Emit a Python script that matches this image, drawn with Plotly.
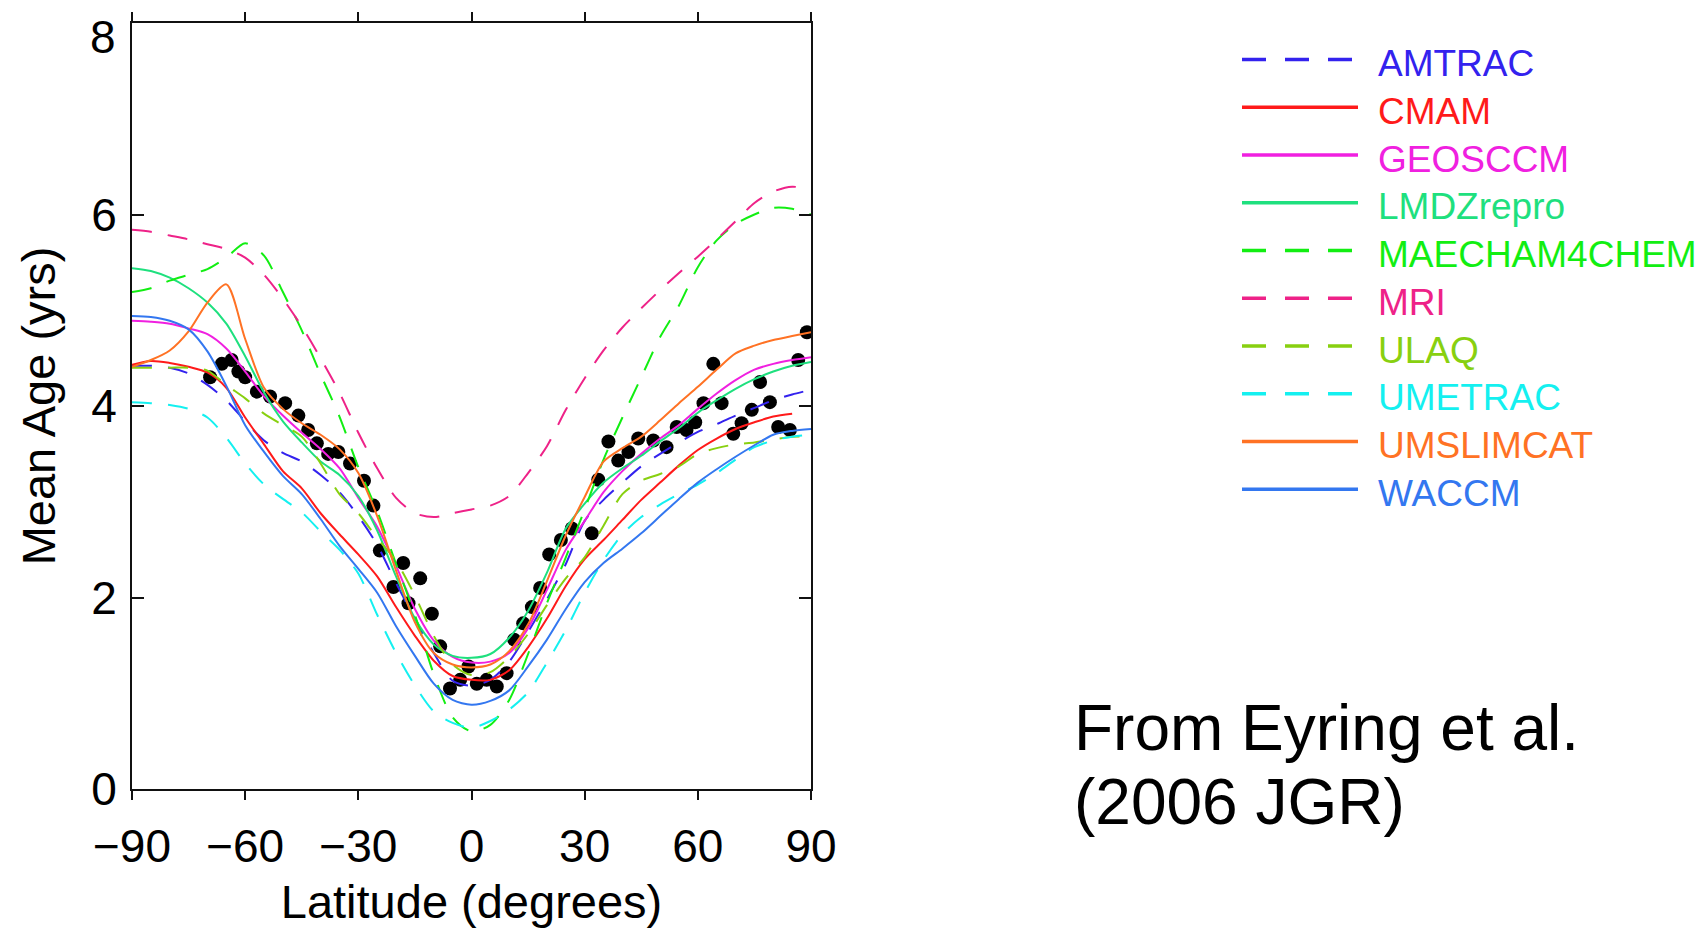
import plotly.graph_objects as go

# ---------------- data ----------------
lat = [-90, -85, -80, -75, -70, -65, -60, -55, -50, -45, -40, -35, -30, -25, -20, -15, -10, -5,
       0, 5, 10, 15, 20, 25, 30, 35, 40, 45, 50, 55, 60, 65, 70, 75, 80, 85, 90]
lat_cmam = lat[:-1]

amtrac = [4.42, 4.42, 4.40, 4.34, 4.22, 4.06, 3.84, 3.64, 3.51, 3.42, 3.28, 3.10, 2.85, 2.55, 2.15,
          1.78, 1.42, 1.13, 1.08, 1.14, 1.33, 1.64, 1.98, 2.35, 2.80, 3.02, 3.20, 3.37, 3.50, 3.62,
          3.73, 3.81, 3.90, 3.98, 4.06, 4.12, 4.17]
cmam = [4.43, 4.47, 4.45, 4.41, 4.35, 4.19, 3.88, 3.60, 3.32, 3.14, 2.88, 2.66, 2.45, 2.22, 1.90,
        1.60, 1.34, 1.18, 1.14, 1.14, 1.24, 1.48, 1.78, 2.12, 2.40, 2.60, 2.81, 3.02, 3.20, 3.38,
        3.54, 3.66, 3.76, 3.83, 3.89, 3.92]
geosccm = [4.89, 4.88, 4.86, 4.81, 4.75, 4.60, 4.36, 4.10, 3.90, 3.72, 3.55, 3.35, 3.04, 2.74, 2.33,
           1.88, 1.55, 1.38, 1.32, 1.33, 1.42, 1.68, 2.08, 2.50, 2.80, 3.10, 3.32, 3.50, 3.66, 3.80,
           3.97, 4.13, 4.27, 4.38, 4.44, 4.48, 4.51]
lmdzrepro = [5.44, 5.41, 5.34, 5.23, 5.08, 4.86, 4.52, 4.14, 3.84, 3.62, 3.42, 3.28, 3.06, 2.70, 2.22,
             1.78, 1.51, 1.39, 1.37, 1.41, 1.58, 1.86, 2.26, 2.72, 2.98, 3.20, 3.35, 3.48, 3.63, 3.77,
             3.93, 4.06, 4.18, 4.28, 4.36, 4.42, 4.46]
maecham4chem = [5.19, 5.23, 5.31, 5.37, 5.43, 5.55, 5.70, 5.57, 5.19, 4.79, 4.33, 3.89, 3.36, 2.90, 2.35,
                1.82, 1.20, 0.75, 0.60, 0.67, 0.93, 1.41, 1.94, 2.42, 2.92, 3.44, 3.88, 4.30, 4.72, 5.05,
                5.45, 5.73, 5.90, 6.00, 6.07, 6.06, 6.00]
mri = [5.84, 5.82, 5.78, 5.74, 5.69, 5.64, 5.55, 5.37, 5.12, 4.83, 4.50, 4.14, 3.72, 3.35, 3.04,
       2.88, 2.84, 2.88, 2.92, 2.96, 3.06, 3.30, 3.58, 3.96, 4.29, 4.58, 4.82, 5.02, 5.21, 5.39,
       5.56, 5.74, 5.93, 6.12, 6.24, 6.29, 6.26]
ulaq = [4.40, 4.40, 4.40, 4.40, 4.37, 4.22, 4.08, 3.92, 3.80, 3.68, 3.40, 3.08, 2.88, 2.62, 2.38,
        2.02, 1.60, 1.30, 1.19, 1.22, 1.38, 1.62, 1.92, 2.20, 2.42, 2.75, 3.08, 3.22, 3.29, 3.37,
        3.50, 3.56, 3.60, 3.62, 3.65, 3.68, 3.68]
umetrac = [4.04, 4.03, 4.01, 3.97, 3.88, 3.67, 3.40, 3.18, 3.03, 2.89, 2.69, 2.50, 2.25, 1.82, 1.42,
           1.08, 0.81, 0.69, 0.64, 0.71, 0.83, 1.01, 1.32, 1.66, 2.05, 2.39, 2.66, 2.84, 2.97, 3.08,
           3.18, 3.30, 3.44, 3.57, 3.64, 3.68, 3.70]
umslimcat = [4.41, 4.48, 4.58, 4.78, 5.08, 5.27, 4.70, 4.19, 3.97, 3.82, 3.70, 3.55, 3.30, 2.85, 2.28,
             1.74, 1.42, 1.30, 1.27, 1.30, 1.44, 1.72, 2.17, 2.65, 3.05, 3.42, 3.56, 3.68, 3.85, 4.03,
             4.20, 4.38, 4.55, 4.63, 4.69, 4.73, 4.77]
waccm = [4.94, 4.93, 4.89, 4.80, 4.57, 4.21, 3.80, 3.52, 3.27, 3.08, 2.82, 2.54, 2.30, 2.05, 1.70,
         1.39, 1.10, 0.93, 0.88, 0.92, 1.03, 1.28, 1.56, 1.88, 2.16, 2.36, 2.51, 2.67, 2.85, 3.03,
         3.20, 3.34, 3.47, 3.59, 3.70, 3.74, 3.76]

obs_lat = [-69.3, -66.2, -63.6, -61.8, -60.0, -56.9, -53.4, -49.4, -45.9, -43.3, -41.0, -38.0, -35.3,
           -32.2, -28.5, -26.0, -24.3, -20.7, -18.1, -16.7, -13.6, -10.5, -8.3, -5.7, -3.0, -0.8,
           1.4, 4.0, 6.7, 9.3, 11.3, 13.7, 16.0, 18.2, 20.6, 23.7, 26.6, 31.9, 33.6, 36.3, 38.9,
           41.6, 44.2, 48.2, 51.7, 54.4, 57.0, 59.3, 61.5, 64.1, 66.3, 69.4, 71.6, 74.3, 76.5,
           79.1, 81.3, 84.4, 86.6, 88.9]
obs_age = [4.30, 4.44, 4.48, 4.36, 4.30, 4.15, 4.10, 4.03, 3.90, 3.75, 3.61, 3.50, 3.52,
           3.40, 3.22, 2.96, 2.49, 2.11, 2.36, 1.94, 2.20, 1.83, 1.49, 1.05, 1.14, 1.28,
           1.10, 1.14, 1.07, 1.21, 1.56, 1.73, 1.90, 2.10, 2.45, 2.60, 2.72, 2.67, 3.23, 3.63, 3.43,
           3.52, 3.66, 3.64, 3.57, 3.78, 3.75, 3.83, 4.03, 4.44, 4.03, 3.71, 3.82, 3.96, 4.25,
           4.04, 3.78, 3.75, 4.48, 4.77]

model_names = ["AMTRAC", "CMAM", "GEOSCCM", "LMDZrepro", "MAECHAM4CHEM", "MRI", "ULAQ", "UMETRAC",
               "UMSLIMCAT", "WACCM"]
model_values = [amtrac, cmam, geosccm, lmdzrepro, maecham4chem, mri, ulaq, umetrac, umslimcat, waccm]
model_lats = [lat, lat_cmam, lat, lat, lat, lat, lat, lat, lat, lat]
model_colors = ["#3322EE", "#FF1A1A", "#F020E0", "#1EE07E", "#12EE12", "#EE2288", "#88D010",
                "#14F0F0", "#FF7224", "#3377F0"]
model_dashed = [True, False, False, False, True, True, True, True, False, False]

x_ticks = [-90, -60, -30, 0, 30, 60, 90]
y_ticks = [0, 2, 4, 6, 8]
# the top label ("8") is drawn just below its tick, as in the original, so it is not clipped
y_ticktext = ["0", "2", "4", "6", ""]
y_top_label = "8"

FONT = "Liberation Sans"

# ---------------- figure ----------------
fig = go.Figure()

fig.add_trace(go.Scatter(x=obs_lat, y=obs_age, mode="markers", name="Observations",
                         marker=dict(color="black", size=14, line=dict(width=0)),
                         showlegend=False))

for name, xs, ys, col, dashed in zip(model_names, model_lats, model_values, model_colors, model_dashed):
    fig.add_trace(go.Scatter(x=xs, y=ys, mode="lines", name=name,
                             line=dict(color=col, width=2, shape="spline", smoothing=0.8,
                                       dash="20px,16px" if dashed else "solid"),
                             showlegend=False))

# plot area geometry (pixels)
L, R, T, B = 132, 811, 23, 789
W, H = 1702, 928


def px(xp):
    return (xp - L) / (R - L)


def py(yp):
    return (B - yp) / (B - T)


# custom legend: long sample lines + coloured labels
row0, drow = 59.5, 47.75
for i, (name, col, dashed) in enumerate(zip(model_names, model_colors, model_dashed)):
    yrow = row0 + i * drow
    fig.add_shape(type="line", xref="paper", yref="paper",
                  x0=px(1242), x1=px(1358), y0=py(yrow), y1=py(yrow),
                  line=dict(color=col, width=3.5, dash="24px,19px" if dashed else "solid"))
    fig.add_annotation(xref="paper", yref="paper", x=px(1376), y=py(yrow + 4),
                       xanchor="left", yanchor="middle", showarrow=False, text=name,
                       font=dict(family=FONT, size=37, color=col))

fig.add_annotation(xref="paper", yref="paper", x=px(1072), y=py(728), xanchor="left",
                   yanchor="middle", showarrow=False, text="From Eyring et al.",
                   font=dict(family=FONT, size=64, color="black"))
fig.add_annotation(xref="paper", yref="paper", x=px(1072), y=py(802), xanchor="left",
                   yanchor="middle", showarrow=False, text="(2006 JGR)",
                   font=dict(family=FONT, size=64, color="black"))

# top y tick label
fig.add_annotation(xref="paper", yref="paper", x=px(118), y=py(37), xanchor="right",
                   yanchor="middle", showarrow=False, text=y_top_label,
                   font=dict(family=FONT, size=46, color="black"))

axis_common = dict(showline=True, linecolor="#111111", linewidth=2, mirror="allticks",
                   showgrid=False, zeroline=False, tickcolor="#111111", tickwidth=2,
                   tickfont=dict(family=FONT, size=46, color="black"))

fig.update_xaxes(range=[-90, 90], tickvals=x_ticks, ticks="outside", ticklen=9,
                 ticklabelstandoff=7,
                 title=dict(text="Latitude (degrees)", standoff=26,
                            font=dict(family=FONT, size=47, color="black")),
                 **axis_common)
fig.update_yaxes(range=[0, 8], tickvals=y_ticks, ticktext=y_ticktext, ticks="inside", ticklen=12,
                 ticklabelstandoff=4,
                 title=dict(text="Mean Age (yrs)", standoff=21,
                            font=dict(family=FONT, size=47, color="black")),
                 **axis_common)

fig.update_layout(width=W, height=H, margin=dict(l=L, r=W - R, t=T, b=H - B, autoexpand=False),
                  paper_bgcolor="white", plot_bgcolor="white", showlegend=False,
                  font=dict(family=FONT))

fig.write_html("out.html")
